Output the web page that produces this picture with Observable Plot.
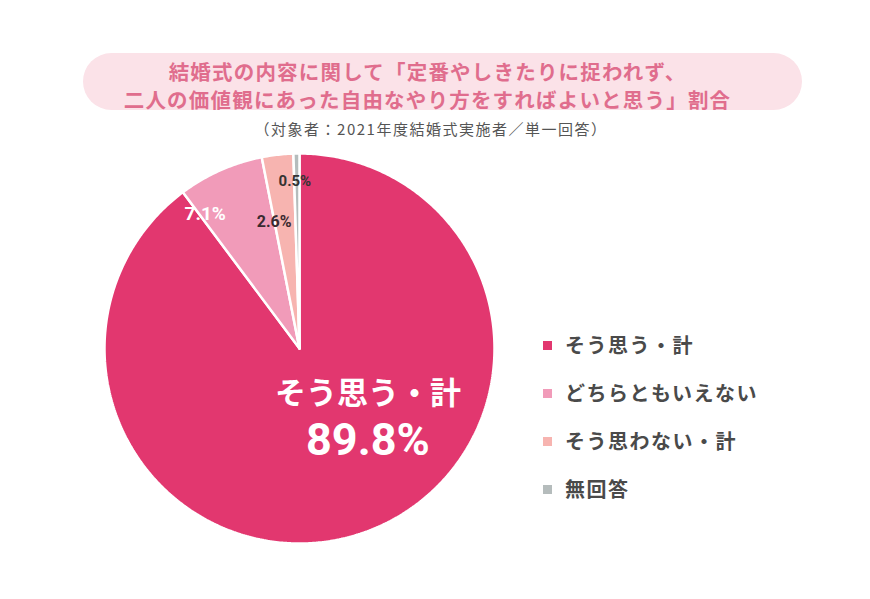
<!DOCTYPE html>
<html><head><meta charset="utf-8">
<script src="https://cdn.jsdelivr.net/npm/d3@7"></script>
<script src="https://cdn.jsdelivr.net/npm/@observablehq/plot@0.6"></script>
<style>
body{margin:0;background:#fff;font-family:"Noto Sans CJK JP","Noto Sans",sans-serif;}
#wrap{position:relative;width:870px;height:599px;overflow:hidden;}
#pill{position:absolute;left:83px;top:53px;width:719px;height:57px;border-radius:29px;background:#fbe2e8;}
.t{position:absolute;left:0;width:855px;text-align:center;font-weight:700;color:#e06d8d;font-size:20.5px;letter-spacing:1.2px;line-height:26px;white-space:nowrap;}
#sub{position:absolute;left:0;width:862px;text-align:center;color:#555;font-size:15px;letter-spacing:1.5px;top:119px;line-height:20px;}
#chart{position:absolute;left:0;top:140px;}
#legend{position:absolute;left:543px;top:0;}
.li{position:absolute;left:0;white-space:nowrap;font-size:20px;font-weight:700;color:#4a4a4a;letter-spacing:1.5px;line-height:24px;}
.sw{display:inline-block;width:9px;height:9px;margin-right:13px;vertical-align:middle;position:relative;top:-2px;}
</style></head>
<body><div id="wrap">
<div id="pill"></div>
<div class="t" id="t1" style="top:58px"></div>
<div class="t" id="t2" style="top:86px"></div>
<div id="sub"></div>
<div id="chart"></div>
<div id="legend"></div>
</div>
<script>
const titleLines = ["結婚式の内容に関して「定番やしきたりに捉われず、", "二人の価値観にあった自由なやり方をすればよいと思う」割合"];
const subtitle = "（対象者：2021年度結婚式実施者／単一回答）";
const categories = ["そう思う・計", "どちらともいえない", "そう思わない・計", "無回答"];
const values = [89.8, 7.1, 2.6, 0.5];
const valueLabels = ["89.8%", "7.1%", "2.6%", "0.5%"];
const colors = ["#e2376f", "#f19bb9", "#f7b4b0", "#b5bcbc"];

document.getElementById("t1").textContent = titleLines[0];
document.getElementById("t2").textContent = titleLines[1];
document.getElementById("sub").textContent = subtitle;

const data = categories.map((c, i) => ({key: c, value: values[i], label: valueLabels[i]}));
const arcs = d3.pie().sort(null).value(d => d.value).startAngle(0).endAngle(2 * Math.PI)(data);

// polygon outline of each slice, derived from the pie angles
const pts = [];
arcs.forEach(a => {
  const n = Math.max(2, Math.ceil((a.endAngle - a.startAngle) / 0.01));
  pts.push({key: a.data.key, x: 0, y: 0});
  for (let k = 0; k <= n; k++) {
    const t = a.startAngle + (a.endAngle - a.startAngle) * k / n;
    pts.push({key: a.data.key, x: Math.sin(t), y: Math.cos(t)});
  }
  pts.push({key: a.data.key, x: 0, y: 0});
});
const mid = (a, r) => ({x: r * Math.sin((a.startAngle + a.endAngle) / 2), y: r * Math.cos((a.startAngle + a.endAngle) / 2), label: a.data.label, key: a.data.key});

const W = 870, H = 420, R = 195, cx = 299, cy = 208;
const chart = Plot.plot({
  width: W, height: H,
  marginLeft: cx - R, marginRight: W - cx - R,
  marginTop: cy - R, marginBottom: H - cy - R,
  x: {domain: [-1, 1], axis: null},
  y: {domain: [-1, 1], axis: null},
  color: {domain: categories, range: colors},
  style: {fontFamily: '"Noto Sans CJK JP", sans-serif', background: "transparent"},
  marks: [
    Plot.line(pts, {x: "x", y: "y", z: "key", fill: "key", stroke: "white", strokeWidth: 2.5, strokeLinejoin: "miter", curve: "linear"}),
    Plot.text([mid(arcs[0], 0.3)], {x: "x", y: "y", text: d => d.key, fill: "white", fontSize: 31, fontWeight: 700, dx: 50, dy: -10, letterSpacing: 2}),
    Plot.text([mid(arcs[0], 0.3)], {x: "x", y: "y", text: "label", fill: "white", fontSize: 45, fontWeight: 700, dx: 50, dy: 37, fontFamily: "Roboto, sans-serif"}),
    Plot.text([mid(arcs[1], 0.8)], {x: "x", y: "y", text: "label", fill: "white", fontSize: 19, fontWeight: 700, dx: -31, dy: 8, fontFamily: "Roboto, sans-serif"}),
    Plot.text([mid(arcs[2], 0.65)], {x: "x", y: "y", text: "label", fill: "#3a2a30", fontSize: 16, fontWeight: 700, dx: -11, dy: -1, fontFamily: "Roboto, sans-serif"}),
    Plot.text([mid(arcs[3], 0.86)], {x: "x", y: "y", text: "label", fill: "#333", fontSize: 15, fontWeight: 700, dx: -2, dy: 0, fontFamily: "Roboto, sans-serif"})
  ]
});
document.getElementById("chart").appendChild(chart);

const legend = document.getElementById("legend");
categories.forEach((c, i) => {
  const d = document.createElement("div");
  d.className = "li";
  d.style.top = (333 + i * 48) + "px";
  d.innerHTML = `<span class="sw" style="background:${colors[i]}"></span>`;
  d.appendChild(document.createTextNode(c));
  legend.appendChild(d);
});
</script>
</body></html>
